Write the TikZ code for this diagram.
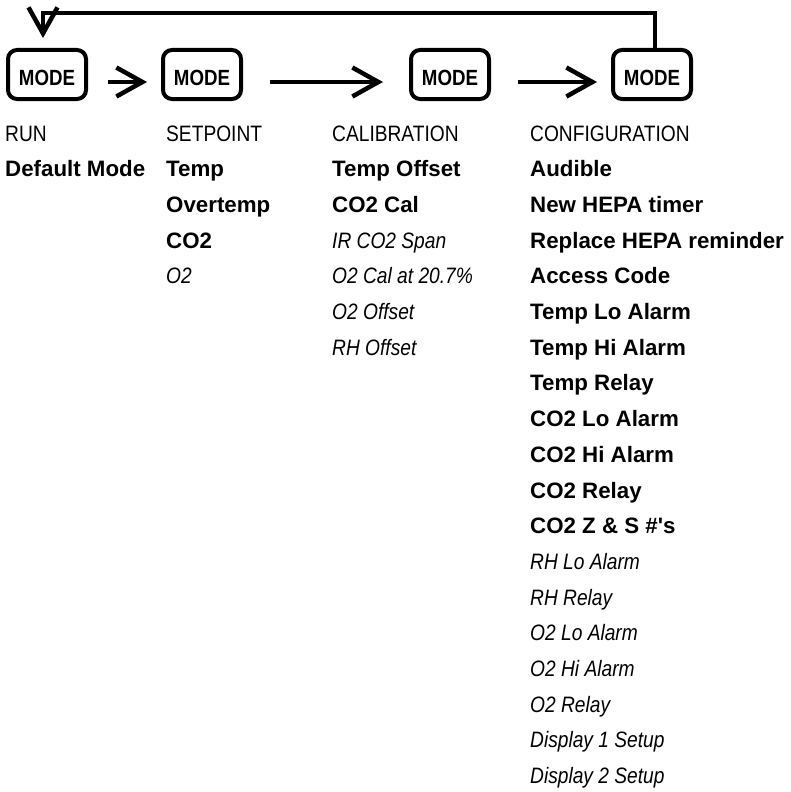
\documentclass[tikz,border=0pt]{standalone}
\usepackage{fontspec}
\setmainfont{Liberation Sans}
\newfontfamily\lightfont[FakeStretch=0.86]{Liberation Sans}
\newfontfamily\keyfont[FakeStretch=0.85]{Liberation Sans}
\usetikzlibrary{arrows.meta}

\begin{document}
\begin{tikzpicture}[x=1pt,y=-1pt,
        modebox/.style={draw,line width=4pt,rounded corners=9pt,minimum width=78pt,minimum height=49pt,
            inner sep=0pt,outer sep=0pt,text height=21pt,text depth=0pt,font=\keyfont\bfseries\fontsize{22}{22}\selectfont},
        flow/.style={line width=4.5pt,-{Straight Barb[length=26pt,width=29pt]}},
        head/.style={anchor=base west,inner sep=0pt,font=\lightfont\fontsize{22.3}{24}\selectfont},
        item/.style={anchor=base west,inner sep=0pt,font=\bfseries\fontsize{22.3}{24}\selectfont},
        opt/.style={anchor=base west,inner sep=0pt,font=\lightfont\itshape\fontsize{22.3}{24}\selectfont}]
    \useasboundingbox (0,0) rectangle (791,792);

    % mode buttons
    \node[modebox] (mrun) at (47,74.5) {MODE};
    \node[modebox] (mset) at (202,74.5) {MODE};
    \node[modebox] (mcal) at (450,74.5) {MODE};
    \node[modebox] (mconf) at (652,74.5) {MODE};

    \draw[flow] ([shift={(22,7.5)}]mrun.east) -- ([shift={(-16,7.5)}]mset.west);
    \draw[flow] ([shift={(29,7.5)}]mset.east) -- ([shift={(-28,7.5)}]mcal.west);
    \draw[flow] ([shift={(29,7.5)}]mcal.east) -- ([shift={(-16,7.5)}]mconf.west);

    % back to run mode
    \coordinate (loop) at (0,13);
    \draw[flow,shorten >=12pt] ([xshift=3pt]mconf.north) |- ([xshift=-4pt]mrun.north |- loop) -- ([xshift=-4pt]mrun.north);

    % menus
    \node[head] (runlbl) at (5,141) {RUN};
    \node[item] (run1) at (5,176.7) {Default Mode};

    \node[head] (setlbl) at (166,141) {SETPOINT};
    \foreach \t/\s [count=\i] in {Temp/item,Overtemp/item,CO2/item,O2/opt}
        \node[\s] (set\i) at (166,{141+35.7*\i}) {\t};

    \node[head] (callbl) at (332,141) {CALIBRATION};
    \foreach \t/\s [count=\i] in {Temp Offset/item,CO2 Cal/item,IR CO2 Span/opt,O2 Cal at 20.7\%/opt,O2 Offset/opt,RH Offset/opt}
        \node[\s] (cal\i) at (332,{141+35.7*\i}) {\t};

    \node[head] (conflbl) at (530,141) {CONFIGURATION};
    \foreach \t/\s [count=\i] in {Audible/item,New HEPA timer/item,Replace HEPA reminder/item,Access Code/item,
        Temp Lo Alarm/item,Temp Hi Alarm/item,Temp Relay/item,CO2 Lo Alarm/item,CO2 Hi Alarm/item,CO2 Relay/item,
        CO2 Z \& S \#\textquotesingle s/item,RH Lo Alarm/opt,RH Relay/opt,O2 Lo Alarm/opt,O2 Hi Alarm/opt,O2 Relay/opt,
        Display 1 Setup/opt,Display 2 Setup/opt}
        \node[\s] (conf\i) at (530,{141+35.7*\i}) {\t};
\end{tikzpicture}
\end{document}
